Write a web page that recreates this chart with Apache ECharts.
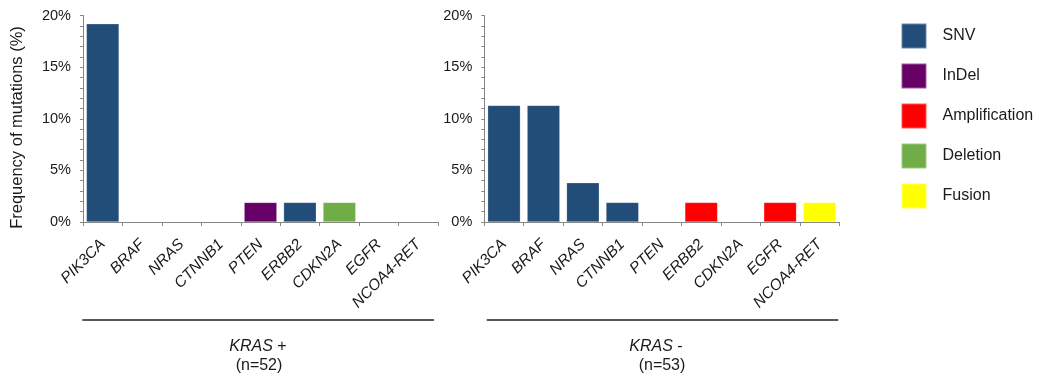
<!DOCTYPE html>
<html>
<head>
<meta charset="utf-8">
<script src="https://cdn.jsdelivr.net/npm/echarts@6/dist/echarts.min.js"></script>
<style>
  html, body { margin: 0; padding: 0; background: #fff; }
  #chart { width: 1038px; height: 379px; }
</style>
</head>
<body>
<div id="chart"></div>
<script>
// Genes on the x axis of both panels
const genes = ['PIK3CA', 'BRAF', 'NRAS', 'CTNNB1', 'PTEN', 'ERBB2', 'CDKN2A', 'EGFR', 'NCOA4-RET'];

// Alteration frequency (%) and alteration type per gene, KRAS-positive cohort
const krasPosFreq = [19.2, 0, 0, 0, 1.9, 1.9, 1.9, 0, 0];
const krasPosKind = ['SNV', null, null, null, 'InDel', 'SNV', 'Deletion', null, null];

// Alteration frequency (%) and alteration type per gene, KRAS-negative cohort
const krasNegFreq = [11.3, 11.3, 3.8, 1.9, 0, 1.9, 0, 1.9, 1.9];
const krasNegKind = ['SNV', 'SNV', 'SNV', 'SNV', null, 'Amplification', null, 'Amplification', 'Fusion'];

// Alteration types (legend order)
const kinds = ['SNV', 'InDel', 'Amplification', 'Deletion', 'Fusion'];

// Cohort captions
const cohortSigns = ['+', '-'];
const cohortSizes = [52, 53];

// Axis range
const yMin = 0, yMax = 20, yStep = 5;

const kindColor = {
  'SNV': '#214d78',
  'InDel': '#660066',
  'Amplification': '#ff0000',
  'Deletion': '#70ad47',
  'Fusion': '#ffff00'
};

const FONT = '"Liberation Sans", Arial, Helvetica, sans-serif';
const AXIS_GRAY = '#868686';
const TEXT = '#1a1a1a';

const grids = [
  { left: 83, top: 15.5, width: 355, height: 206.5 },
  { left: 484.3, top: 15.5, width: 355, height: 206.5 }
];

function xAxisFor(i) {
  return {
    type: 'category',
    gridIndex: i,
    data: genes,
    boundaryGap: true,
    axisLine: { lineStyle: { color: AXIS_GRAY, width: 1 } },
    axisTick: { show: true, length: 4, alignWithLabel: false, lineStyle: { color: AXIS_GRAY } },
    axisLabel: {
      interval: 0,
      rotate: 45,
      margin: 20,
      fontFamily: FONT,
      fontStyle: 'italic',
      fontSize: 15.5,
      color: TEXT
    }
  };
}

function yAxisFor(i) {
  return {
    type: 'value',
    gridIndex: i,
    min: yMin,
    max: yMax,
    interval: yStep,
    splitLine: { show: false },
    axisLine: { show: true, lineStyle: { color: AXIS_GRAY, width: 1 } },
    axisTick: { show: true, length: 3, lineStyle: { color: AXIS_GRAY } },
    minorTick: { show: true, splitNumber: 5, length: 3, lineStyle: { color: AXIS_GRAY } },
    axisLabel: {
      formatter: '{value}%',
      margin: 12,
      fontFamily: FONT,
      fontSize: 14.5,
      color: TEXT
    }
  };
}

// One stacked series per alteration type in each panel, so every bar takes its type colour
function seriesFor(i, freq, kindOf) {
  return kinds.map(function (k) {
    return {
      name: k,
      type: 'bar',
      xAxisIndex: i,
      yAxisIndex: i,
      stack: 'panel' + i,
      barCategoryGap: '17%',
      itemStyle: { color: kindColor[k], borderColor: 'rgba(255,255,255,0.35)', borderWidth: 0.6 },
      emphasis: { disabled: true },
      data: freq.map(function (v, j) { return kindOf[j] === k ? v : null; })
    };
  });
}

const chart = echarts.init(document.getElementById('chart'), null, { renderer: 'canvas' });

const bracketY = 320;
const captionX = [258, 661];

const graphic = [
  // vertical y-axis title
  {
    type: 'text',
    x: 17, y: 127.5,
    rotation: Math.PI / 2,
    style: {
      text: 'Frequency of mutations (%)',
      font: '16.5px ' + FONT,
      fill: TEXT,
      textAlign: 'center',
      textVerticalAlign: 'middle'
    }
  },
  // cohort brackets
  { type: 'line', shape: { x1: 82.3, y1: bracketY, x2: 434, y2: bracketY }, style: { stroke: '#222', lineWidth: 1.5 } },
  { type: 'line', shape: { x1: 486.7, y1: bracketY, x2: 838.3, y2: bracketY }, style: { stroke: '#222', lineWidth: 1.5 } }
];

cohortSigns.forEach(function (s, i) {
  graphic.push({
    type: 'text',
    x: captionX[i] - (s === '-' ? 5 : 0), y: 347,
    style: {
      text: '{i|KRAS} ' + s,
      font: '16px ' + FONT,
      fill: TEXT,
      textAlign: 'center',
      textVerticalAlign: 'middle',
      rich: { i: { fontStyle: 'italic', fontSize: 16, fontFamily: FONT, color: TEXT } }
    }
  });
  graphic.push({
    type: 'text',
    x: captionX[i] + 1, y: 365.5,
    style: {
      text: '(n=' + cohortSizes[i] + ')',
      font: '16px ' + FONT,
      fill: TEXT,
      textAlign: 'center',
      textVerticalAlign: 'middle'
    }
  });
});

chart.setOption({
  animation: false,
  backgroundColor: '#ffffff',
  textStyle: { fontFamily: FONT },
  grid: grids,
  xAxis: [xAxisFor(0), xAxisFor(1)],
  yAxis: [yAxisFor(0), yAxisFor(1)],
  legend: {
    data: kinds,
    orient: 'vertical',
    left: 900.5,
    top: 22.5,
    padding: 0,
    itemWidth: 25,
    itemHeight: 25,
    itemGap: 13,
    icon: 'rect',
    textStyle: { fontFamily: FONT, fontSize: 16, color: TEXT, padding: [0, 0, 0, 11] },
    selectedMode: false
  },
  series: seriesFor(0, krasPosFreq, krasPosKind).concat(seriesFor(1, krasNegFreq, krasNegKind)),
  graphic: graphic
});
</script>
</body>
</html>
